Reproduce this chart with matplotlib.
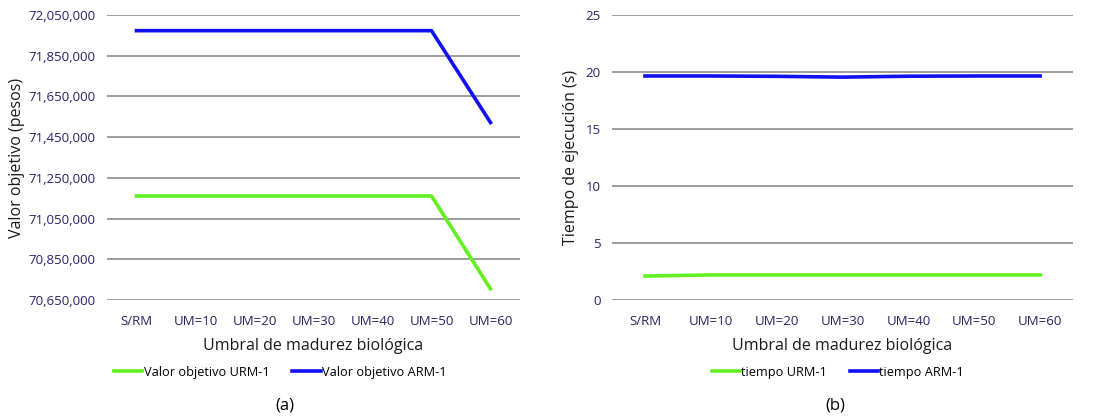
import numpy as np
import matplotlib.pyplot as plt

plt.rcParams['font.family'] = ['Open Sans', 'DejaVu Sans']

#Categories and series
categorias = ['S/RM', 'UM=10', 'UM=20', 'UM=30', 'UM=40', 'UM=50', 'UM=60']
valor_urm = [71161000, 71161000, 71161000, 71161000, 71161000, 71161000, 70705000]
valor_arm = [71973000, 71973000, 71973000, 71973000, 71973000, 71973000, 71522000]
tiempo_urm = [2.1, 2.2, 2.2, 2.2, 2.2, 2.2, 2.2]
tiempo_arm = [19.65, 19.65, 19.62, 19.55, 19.63, 19.65, 19.65]

verde = '#62f020'
azul = '#1010f0'
tick_col = '#2e1f66'

fig = plt.figure(figsize=(11.12, 4.2), dpi=100)
ax1 = fig.add_axes([0.0962, 0.2857, 0.3714, 0.6786])
ax2 = fig.add_axes([0.5504, 0.2857, 0.4146, 0.6786])

x = np.arange(len(categorias))

def estilo(ax):
    for s in ax.spines.values():
        s.set_visible(False)
    ax.set_xlim(-0.5, len(categorias) - 0.5)
    ax.grid(axis='y', color='#8c8c8c', lw=1.2)
    ax.set_axisbelow(True)
    ax.tick_params(length=0, labelsize=9.5, colors=tick_col, pad=8)
    ax.tick_params(axis='x', pad=11)
    ax.set_xticks(x)
    ax.set_xticklabels(categorias)
    ax.set_xlabel('Umbral de madurez biológica', fontsize=11.5, color='#1a1a1a', labelpad=7)

ax1.plot(x, valor_urm, color=verde, lw=2.6, label='Valor objetivo URM-1')
ax1.plot(x, valor_arm, color=azul, lw=2.6, label='Valor objetivo ARM-1')
estilo(ax1)
ax1.set_ylim(70650000, 72050000)
yt = np.arange(70650000, 72050001, 200000)
ax1.set_yticks(yt)
ax1.set_yticklabels(['{:,}'.format(v) for v in yt])
ax1.set_ylabel('Valor objetivo (pesos)', fontsize=11.5, color='#1a1a1a', labelpad=3)
ax1.legend(loc='upper center', bbox_to_anchor=(0.42, -0.19), ncol=2, frameon=False,
           fontsize=9.2, handlelength=2.2, handletextpad=0.1, columnspacing=1.8)
ax1.text(0.43, -0.37, '(a)', transform=ax1.transAxes, ha='center', va='center', fontsize=12)

ax2.plot(x, tiempo_urm, color=verde, lw=2.6, label='tiempo URM-1')
ax2.plot(x, tiempo_arm, color=azul, lw=2.6, label='tiempo ARM-1')
estilo(ax2)
ax2.set_ylim(0, 25)
ax2.set_yticks(range(0, 26, 5))
ax2.set_ylabel('Tiempo de ejecución (s)', fontsize=11.5, color='#1a1a1a', labelpad=5)
ax2.legend(loc='upper center', bbox_to_anchor=(0.49, -0.19), ncol=2, frameon=False,
           fontsize=9.2, handlelength=2.2, handletextpad=0.1, columnspacing=1.8)
ax2.text(0.485, -0.37, '(b)', transform=ax2.transAxes, ha='center', va='center', fontsize=12)

fig.savefig('out.png', dpi=100)
